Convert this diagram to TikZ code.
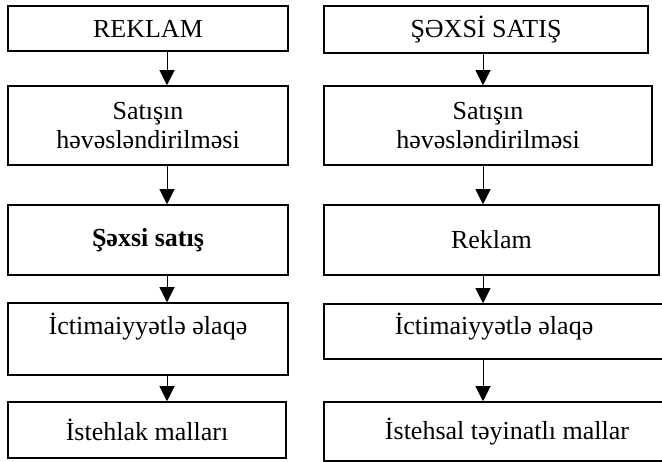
\documentclass[tikz,border=0pt]{standalone}
\usepackage{fontspec}
\setmainfont{Liberation Serif}
\usetikzlibrary{arrows.meta}
\begin{document}
\begin{tikzpicture}[x=1pt,y=1pt,
  box/.style={draw, line width=1.5pt, inner sep=0pt, align=center,
    font=\fontsize{26}{29}\selectfont},
  conn/.style={line width=1pt, -{Triangle[length=15pt,width=15pt]}}]
\useasboundingbox (0,0) rectangle (662,-462);
\clip (0,0) rectangle (662,-462);
% left column
\node[box, minimum width=280pt, minimum height=45pt] (l1) at (148,-28.5) {REKLAM};
\node[box, minimum width=280pt, minimum height=79pt] (l2) at (148,-125.5) {Satışın\\həvəsləndirilməsi};
\node[box, minimum width=280pt, minimum height=70pt] (l3) at (148,-240) {\bfseries Şəxsi satış};
\node[box, minimum width=280pt, minimum height=72pt, text depth=30pt] (l4) at (148,-339) {İctimaiyyətlə əlaqə};
\node[box, minimum width=278pt, minimum height=56pt] (l5) at (147,-430) {İstehlak malları};
% right column
\node[box, minimum width=324pt, minimum height=47pt] (r1) at (486,-29.5) {ŞƏXSİ SATIŞ};
\node[box, minimum width=328pt, minimum height=79pt] (r2) at (488,-125.5) {Satışın\\həvəsləndirilməsi};
\node[box, minimum width=335pt, minimum height=70pt] (r3) at (491.5,-240) {Reklam};
\node[box, minimum width=340pt, minimum height=55pt, text depth=16pt] (r4) at (494,-331.5) {İctimaiyyətlə əlaqə};
\node[box, minimum width=366pt, minimum height=59pt] (r5) at (507,-431.5) {İstehsal təyinatlı mallar};
% arrow axes
\coordinate (ax) at (167,0);
\coordinate (bx) at (483,0);
\draw[conn] (l1.south -| ax) -- (l2.north -| ax);
\draw[conn] (l2.south -| ax) -- (l3.north -| ax);
\draw[conn] (l3.south -| ax) -- (l4.north -| ax);
\draw[conn] (l4.south -| ax) -- (l5.north -| ax);
\draw[conn] (r1.south -| bx) -- (r2.north -| bx);
\draw[conn] (r2.south -| bx) -- (r3.north -| bx);
\draw[conn] (r3.south -| bx) -- (r4.north -| bx);
\draw[conn] (r4.south -| bx) -- (r5.north -| bx);
\end{tikzpicture}
\end{document}
